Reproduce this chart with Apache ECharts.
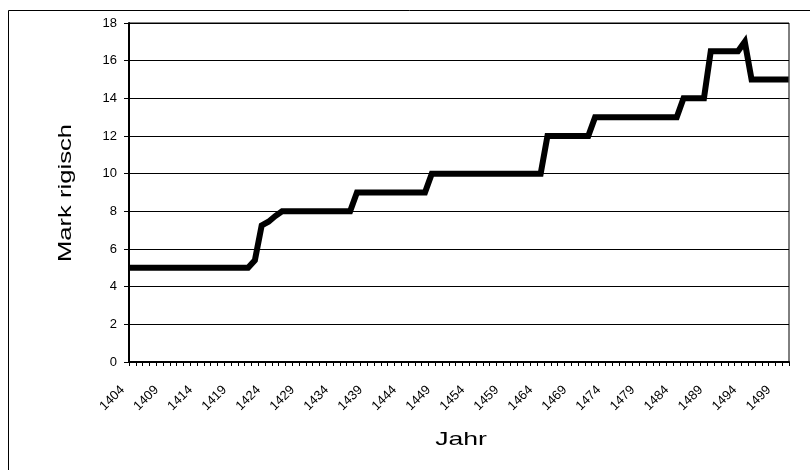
<!DOCTYPE html>
<html><head><meta charset="utf-8">
<script src="https://cdn.jsdelivr.net/npm/echarts@6/dist/echarts.min.js"></script>
<style>html,body{margin:0;padding:0;background:#fff}#c{width:810px;height:470px}</style>
</head><body><div id="c"></div>
<script>
// Years 1404..1500
var years = [];
for (var y = 1404; y <= 1500; y++) years.push(String(y));
// Values (Mark rigisch), per year 1404..1500
var vals1404_1421 = [5,5,5,5,5,5,5,5,5,5,5,5,5,5,5,5,5,5];
var vals1422_1425 = [5.4,7.25,7.45,7.75];
var vals1426_1436 = [8,8,8,8,8,8,8,8,8,8,8];
var vals1437_1447 = [9,9,9,9,9,9,9,9,9,9,9];
var vals1448_1464 = [10,10,10,10,10,10,10,10,10,10,10,10,10,10,10,10,10];
var vals1465_1471 = [12,12,12,12,12,12,12];
var vals1472_1484 = [13,13,13,13,13,13,13,13,13,13,13,13,13];
var vals1485_1488 = [14,14,14,14];
var vals1489_1494 = [16.5,16.5,16.5,16.5,16.5,17];
var vals1495_1500 = [15,15,15,15,15,15];
var values = [].concat(vals1404_1421, vals1422_1425, vals1426_1436, vals1437_1447,
  vals1448_1464, vals1465_1471, vals1472_1484, vals1485_1488, vals1489_1494, vals1495_1500);
var yTicks = [0,2,4,6,8,10,12,14,16,18];
var xName = 'Jahr';
var yName = 'Mark rigisch';

var FONT = 'Liberation Sans, Arial, sans-serif';
var chart = echarts.init(document.getElementById('c'), null, {renderer:'canvas'});
chart.setOption({
  animation:false,
  backgroundColor:'#fff',
  textStyle:{fontFamily:FONT},
  graphic:[
    {type:'rect', shape:{x:8.5,y:10.5,width:820,height:480}, style:{fill:null, stroke:'#000', lineWidth:1}, silent:true, z:-10},
    {type:'text', x:461, y:440, scaleX:1.4, scaleY:1, style:{text:xName, fontSize:19, fontFamily:FONT, fill:'#000', align:'center', verticalAlign:'middle'}, silent:true},
    {type:'text', x:66, y:193, rotation:Math.PI/2, scaleX:1.35, scaleY:1, style:{text:yName, fontSize:19, fontFamily:FONT, fill:'#000', align:'center', verticalAlign:'middle'}, silent:true}
  ],
  grid:{left:129, right:21, top:23, bottom:108, show:true, borderColor:'#000', borderWidth:1, backgroundColor:'transparent'},
  xAxis:{
    type:'category', data:years, boundaryGap:true,
    axisLine:{lineStyle:{color:'#000', width:2}},
    axisTick:{show:true, interval:0, length:4, inside:false, lineStyle:{color:'#000', width:1}},
    axisLabel:{interval:4, rotate:45, fontSize:13, color:'#000', margin:16, padding:[0,14,0,0], fontFamily:FONT},
    splitLine:{show:false}
  },
  yAxis:{
    type:'value', min:0, max:18, interval:2,
    axisLine:{show:true, lineStyle:{color:'#000', width:2}},
    axisTick:{show:true, length:5, lineStyle:{color:'#000', width:1}},
    axisLabel:{fontSize:13, color:'#000', margin:12, fontFamily:FONT,
      formatter:function(v){return yTicks.indexOf(v)>=0? String(v):'';}},
    splitLine:{show:true, lineStyle:{color:'#000', width:1}}
  },
  series:[{
    type:'line', data:values, symbol:'none', smooth:false,
    lineStyle:{color:'#000', width:6, join:'miter', cap:'square'}
  }]
});
</script></body></html>
